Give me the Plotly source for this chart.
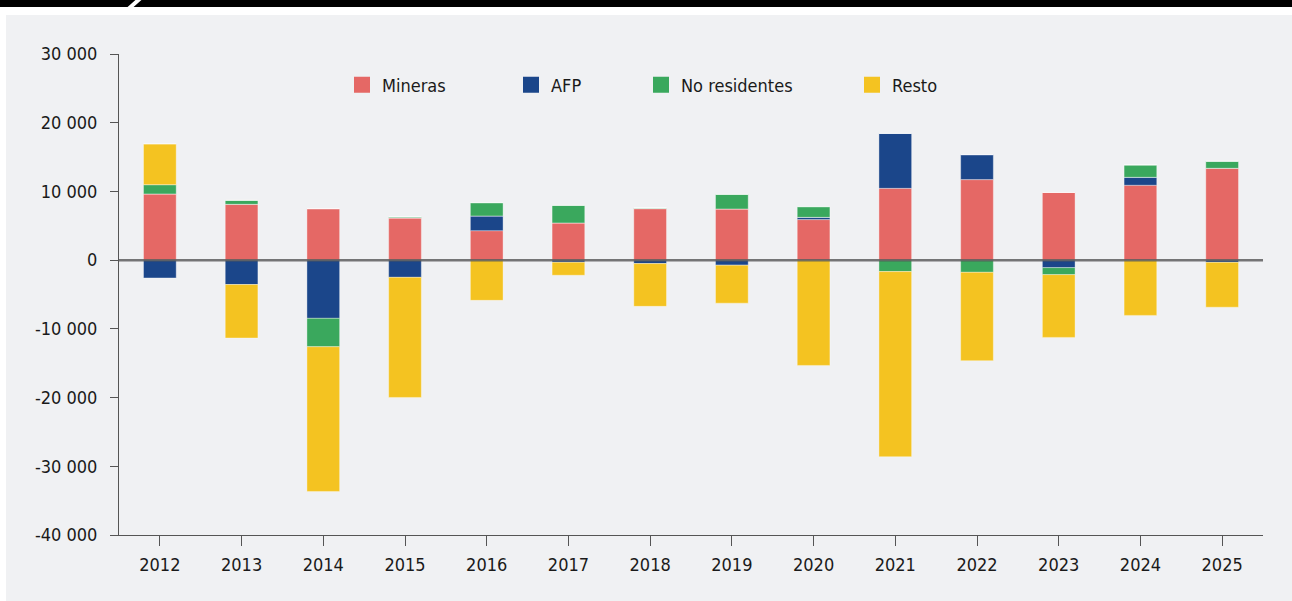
import plotly.graph_objects as go

years = ["2012", "2013", "2014", "2015", "2016", "2017", "2018",
         "2019", "2020", "2021", "2022", "2023", "2024", "2025"]

# Positive and negative parts per group (stacked relative)
mineras_pos = [9640, 8130, 7500, 6140, 4290, 5420, 7500, 7450, 5900, 10450, 11720, 9870, 10900, 13370]
afp_pos = [0, 0, 0, 0, 2140, 0, 0, 0, 330, 8010, 3640, 0, 1160, 0]
afp_neg = [-2590, -3550, -8470, -2500, 0, -300, -500, -730, 0, 0, 0, -1090, 0, -320]
nores_pos = [1350, 580, 0, 150, 1940, 2560, 100, 2130, 1560, 0, 0, 0, 1800, 1020]
nores_neg = [0, 0, -4130, 0, 0, 0, 0, 0, 0, -1670, -1770, -1020, 0, 0]
resto_pos = [5930, 0, 0, 0, 0, 0, 0, 0, 0, 0, 0, 0, 0, 0]
resto_neg = [0, -7780, -21060, -17480, -5850, -1900, -6220, -5530, -15320, -26940, -12860, -9130, -8040, -6530]

series_names = ["Mineras", "AFP", "No residentes", "Resto"]
series_colors = ["#e56865", "#1b468a", "#3aa85d", "#f4c321"]

y_tickvals = [-40000, -30000, -20000, -10000, 0, 10000, 20000, 30000]
y_ticktext = ["-40 000", "-30 000", "-20 000", "-10 000", "0", "10 000", "20 000", "30 000"]

FONT = "'Liberation Sans Narrow', 'DejaVu Sans Condensed', 'Roboto Condensed', 'Arial Narrow', sans-serif"

W, H = 1292, 601
PL, PR, PT, PB = 119, 1263, 54, 535


def px(x):
    return (x - PL) / (PR - PL)


def py(y):
    return (PB - y) / (PB - PT)


fig = go.Figure()

outline = dict(width=1, color="rgba(255,255,255,0.35)")

series_data = [
    ("Mineras", [mineras_pos]),
    ("AFP", [afp_pos, afp_neg]),
    ("No residentes", [nores_pos, nores_neg]),
    ("Resto", [resto_pos, resto_neg]),
]

for i, (name, parts) in enumerate(series_data):
    for part in parts:
        fig.add_trace(go.Bar(
            x=years, y=part, name=name, marker_color=series_colors[i],
            marker_line=outline, showlegend=False, legendgroup=name,
            hovertemplate=name + ": %{y}<extra></extra>",
        ))

legend_x = [356, 525, 655, 866]
legend_keys = ["legend", "legend2", "legend3", "legend4"]
for i, name in enumerate(series_names):
    fig.add_trace(go.Scatter(
        x=[None], y=[None], mode="markers", name=name, legendgroup=name,
        marker=dict(symbol="square", size=16, color=series_colors[i]),
        legend=legend_keys[i], showlegend=True,
    ))

legend_common = dict(
    orientation="h", xanchor="left", yanchor="middle",
    bgcolor="rgba(0,0,0,0)", borderwidth=0,
    font=dict(family=FONT, size=18, color="#1a1a1a"),
)
layout_legends = {}
for i, key in enumerate(legend_keys):
    layout_legends[key] = dict(legend_common, x=px(legend_x[i] - 14), y=py(85))

shapes = [
    dict(type="rect", xref="paper", yref="paper", x0=px(6), x1=px(W + 2), y0=py(H + 2), y1=py(15),
         fillcolor="#f0f1f3", line=dict(width=0), layer="below"),
    dict(type="rect", xref="paper", yref="paper", x0=px(-2), x1=px(W + 2), y0=py(7), y1=py(-2),
         fillcolor="#000000", line=dict(width=0), layer="below"),
    dict(type="path", xref="paper", yref="paper",
         path="M {:.5f},{:.5f} L {:.5f},{:.5f} L {:.5f},{:.5f} L {:.5f},{:.5f} Z".format(
             px(127), py(7.5), px(133), py(7.5), px(142), py(-0.5), px(136), py(-0.5)),
         fillcolor="#ffffff", line=dict(width=0), layer="below"),
    dict(type="line", xref="paper", yref="y", x0=0, x1=1, y0=0, y1=0,
         line=dict(color="rgba(85,85,85,0.8)", width=2.5), layer="above"),
]

fig.update_layout(
    width=W, height=H,
    margin=dict(l=PL, r=W - PR, t=PT, b=H - PB, pad=0),
    paper_bgcolor="#ffffff", plot_bgcolor="#f0f1f3",
    barmode="relative", bargap=0.6,
    font=dict(family=FONT, size=18, color="#1a1a1a"),
    shapes=shapes,
    **layout_legends,
)

fig.update_xaxes(
    type="category", range=[-0.5, 13.5], showgrid=False, zeroline=False,
    showline=True, linecolor="#555555", linewidth=1,
    ticks="outside", ticklen=10, tickcolor="#555555", tickwidth=1,
    ticklabelstandoff=3,
    tickfont=dict(family=FONT, size=18, color="#1a1a1a"),
)
fig.update_yaxes(
    range=[-40000, 30000], tickvals=y_tickvals, ticktext=y_ticktext,
    showgrid=False, zeroline=False,
    showline=True, linecolor="#555555", linewidth=1,
    ticks="outside", ticklen=8, tickcolor="#555555", tickwidth=1,
    ticklabelstandoff=9,
    tickfont=dict(family=FONT, size=18, color="#1a1a1a"),
)

fig.write_html("out.html")
